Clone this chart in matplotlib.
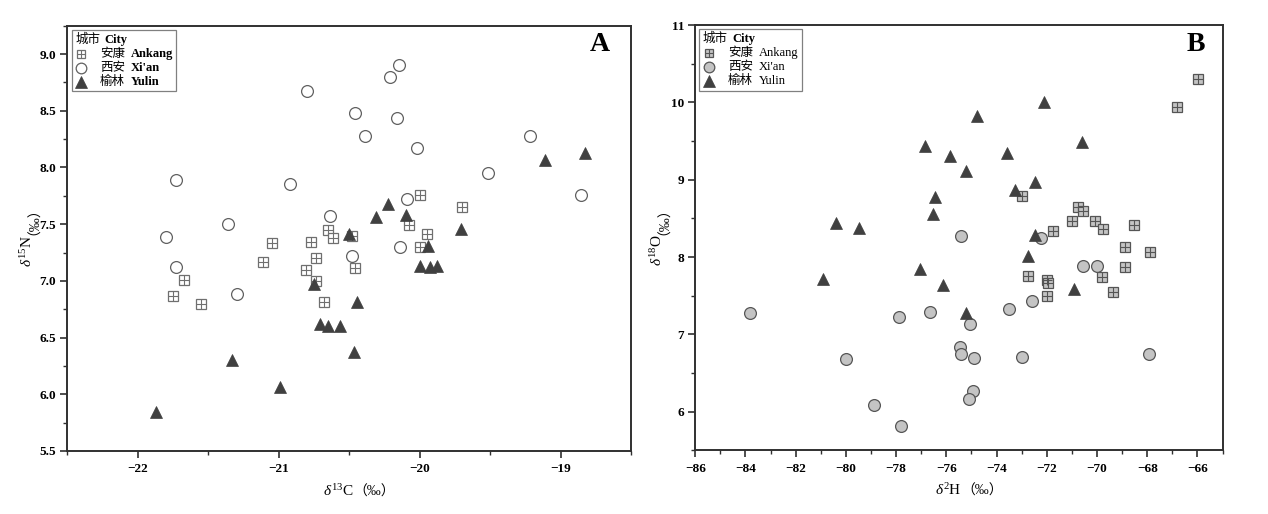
import matplotlib
matplotlib.use("Agg")
import matplotlib.pyplot as plt
from matplotlib.lines import Line2D
from matplotlib.ticker import MultipleLocator
from matplotlib.offsetbox import AnchoredOffsetbox, HPacker, VPacker, TextArea, DrawingArea

plt.rcParams['font.family'] = ['Liberation Serif', 'Noto Sans CJK SC', 'DejaVu Sans']
plt.rcParams['mathtext.fontset'] = 'custom'
plt.rcParams['mathtext.rm'] = 'Liberation Serif'
plt.rcParams['mathtext.it'] = 'Liberation Serif:italic'
plt.rcParams['mathtext.bf'] = 'Liberation Serif:bold'

# ---------- datos: panel A (d13C, d15N) ----------
ank_c = [-21.75, -21.67, -21.55, -21.11, -21.05, -20.81, -20.77, -20.74, -20.74, -20.68,
         -20.65, -20.62, -20.48, -20.46, -20.08, -20.00, -20.00, -19.95, -19.70]
ank_n = [6.87, 7.01, 6.80, 7.17, 7.33, 7.10, 7.34, 7.20, 7.00, 6.81,
         7.45, 7.38, 7.40, 7.11, 7.49, 7.30, 7.76, 7.41, 7.65]

xa_c = [-21.80, -21.73, -21.73, -21.36, -21.30, -20.92, -20.80, -20.64, -20.48, -20.46,
        -20.39, -20.21, -20.16, -20.15, -20.14, -20.09, -20.02, -19.52, -19.22, -18.86]
xa_n = [7.39, 7.89, 7.12, 7.50, 6.88, 7.85, 8.67, 7.57, 7.22, 8.48,
        8.28, 8.80, 8.44, 8.90, 7.30, 7.72, 8.17, 7.95, 8.28, 7.76]

yl_c = [-21.87, -21.33, -20.99, -20.75, -20.71, -20.65, -20.57, -20.50, -20.47, -20.45,
        -20.31, -20.23, -20.10, -20.00, -19.94, -19.93, -19.88, -19.71, -19.11, -18.83]
yl_n = [5.84, 6.30, 6.06, 6.97, 6.62, 6.60, 6.60, 7.41, 6.37, 6.81,
        7.56, 7.68, 7.58, 7.13, 7.31, 7.12, 7.13, 7.46, 8.07, 8.13]

# ---------- datos: panel B (d2H, d18O) ----------
ank_h = [-65.97, -66.80, -73.00, -71.75, -70.76, -70.56, -71.00, -70.10, -69.77, -68.52,
         -68.90, -67.90, -72.76, -72.00, -71.95, -72.00, -68.90, -69.80, -69.36]
ank_o = [10.30, 9.94, 8.79, 8.34, 8.65, 8.59, 8.47, 8.47, 8.36, 8.42,
         8.13, 8.06, 7.76, 7.70, 7.67, 7.49, 7.87, 7.74, 7.55]

xa_h = [-83.80, -80.00, -78.87, -77.90, -77.80, -76.65, -75.43, -75.45, -75.40, -75.05,
        -74.90, -74.95, -75.10, -73.50, -73.00, -72.60, -72.25, -70.56, -70.00, -67.93]
xa_o = [7.27, 6.68, 6.08, 7.23, 5.82, 7.29, 8.27, 6.83, 6.74, 7.14,
        6.69, 6.27, 6.17, 7.33, 6.71, 7.43, 8.25, 7.88, 7.88, 6.75]

yl_h = [-80.93, -80.38, -79.47, -77.04, -76.84, -76.44, -76.52, -76.15, -75.87, -75.23,
        -75.23, -74.79, -73.60, -73.28, -72.48, -72.76, -72.48, -72.12, -70.92, -70.60]
yl_o = [7.71, 8.44, 8.37, 7.84, 9.43, 8.78, 8.55, 7.64, 9.30, 9.11,
        7.28, 9.83, 9.35, 8.87, 8.97, 8.01, 8.28, 10.00, 7.58, 9.49]

ciudades_zh = ['安康', '西安', '榆林']
ciudades_en = ['Ankang', "Xi'an", 'Yulin']

GRIS_OSC = '#404040'
ESPINA = '#303030'


def estilos(panel):
    # estilos de marcador por ciudad
    if panel == 'A':
        sq = dict(marker='s', ms=7, mfc='white', mec='#6f6f6f', mew=0.9)
        pl = dict(marker='+', ms=7, mec='#6f6f6f', mew=0.8)
        ci = dict(marker='o', ms=8.5, mfc='white', mec='#606060', mew=0.9)
    else:
        sq = dict(marker='s', ms=7, mfc='#c4c4c4', mec='#555555', mew=0.9)
        pl = dict(marker='+', ms=7, mec='#555555', mew=0.8)
        ci = dict(marker='o', ms=8.5, mfc='#c4c4c4', mec='#555555', mew=0.9)
    tr = dict(marker='^', ms=9, mfc=GRIS_OSC, mec=GRIS_OSC, mew=0.5)
    return sq, pl, ci, tr


def dibujar(ax, xs, ys, panel):
    sq, pl, ci, tr = estilos(panel)
    ax.plot(xs[0], ys[0], ls='none', zorder=3, **sq)
    ax.plot(xs[0], ys[0], ls='none', zorder=3, **pl)
    ax.plot(xs[1], ys[1], ls='none', zorder=3, **ci)
    ax.plot(xs[2], ys[2], ls='none', zorder=4, **tr)


def leyenda(ax, panel):
    sq, pl, ci, tr = estilos(panel)
    peso = 'bold' if panel == 'A' else 'normal'
    titulo = HPacker(children=[TextArea('城市', textprops=dict(size=9)),
                               TextArea('City', textprops=dict(size=9, weight='bold'))],
                     sep=3, align='baseline')
    filas = [titulo]
    marcas = [[sq, pl], [ci], [tr]]
    for k in range(3):
        da = DrawingArea(14, 8, 0, 0)
        for st in marcas[k]:
            d = dict(st)
            d['ms'] = d['ms'] * 0.9
            da.add_artist(Line2D([4.5], [4], ls='none', **d))
        txt = HPacker(children=[TextArea(ciudades_zh[k], textprops=dict(size=9)),
                                TextArea(ciudades_en[k], textprops=dict(size=9, weight=peso))],
                      sep=4, align='baseline')
        fila = HPacker(children=[da, txt], sep=4, align='center')
        filas.append(fila)
    caja = VPacker(children=filas, sep=1.5, align='left', pad=0)
    ab = AnchoredOffsetbox(loc='upper left', child=caja, pad=0.25, borderpad=0.3, frameon=True)
    ab.patch.set_edgecolor('#808080')
    ab.patch.set_linewidth(0.9)
    ab.patch.set_boxstyle('square', pad=0)
    ax.add_artist(ab)


def ejes(ax, xlim, ylim, xmaj, xmin, ymaj, ymin):
    ax.set_xlim(*xlim)
    ax.set_ylim(*ylim)
    ax.xaxis.set_major_locator(MultipleLocator(xmaj))
    ax.xaxis.set_minor_locator(MultipleLocator(xmin))
    ax.yaxis.set_major_locator(MultipleLocator(ymaj))
    ax.yaxis.set_minor_locator(MultipleLocator(ymin))
    ax.tick_params(which='major', direction='out', length=5, width=1.2, color=ESPINA,
                   labelsize=9.5, pad=4)
    ax.tick_params(axis='y', which='major', pad=3)
    ax.tick_params(which='minor', direction='out', length=3, width=1.0, color=ESPINA)
    ax.tick_params(which='both', top=False, right=False)
    for s in ax.spines.values():
        s.set_linewidth(1.4)
        s.set_color(ESPINA)
    for lb in ax.get_xticklabels() + ax.get_yticklabels():
        lb.set_fontweight('bold')


def etiquetas(ax, xl, yl, ypos):
    ax.set_xlabel(xl, fontsize=11)
    ax.xaxis.set_label_coords(0.48, -0.075)
    ax.annotate('（‰）', xy=(1, 0.45), xycoords=ax.xaxis.label, ha='left', va='center',
                fontsize=10)
    ax.set_ylabel(yl, fontsize=11)
    ax.yaxis.set_label_coords(ypos, 0.47)
    ax.annotate('（‰）', xy=(0.55, 1), xycoords=ax.yaxis.label, ha='center', va='bottom',
                rotation=90, fontsize=10)


fig = plt.figure(figsize=(12.68, 5.14), dpi=100)
axA = fig.add_axes([0.0532, 0.1226, 0.4448, 0.8274])
axB = fig.add_axes([0.5483, 0.1239, 0.4159, 0.8274])

dibujar(axA, [ank_c, xa_c, yl_c], [ank_n, xa_n, yl_n], 'A')
ejes(axA, (-22.5, -18.5), (5.5, 9.25), 1, 0.5, 0.5, 0.25)
etiquetas(axA, r'$\delta^{13}$C', r'$\delta^{15}$N', -0.058)
leyenda(axA, 'A')
axA.text(0.944, 0.955, 'A', transform=axA.transAxes, ha='center', va='center',
         fontsize=20, fontweight='bold')

dibujar(axB, [ank_h, xa_h, yl_h], [ank_o, xa_o, yl_o], 'B')
ejes(axB, (-86, -65), (5.5, 11), 2, 1, 1, 0.5)
etiquetas(axB, r'$\delta^{2}$H', r'$\delta^{18}$O', -0.058)
leyenda(axB, 'B')
axB.text(0.949, 0.955, 'B', transform=axB.transAxes, ha='center', va='center',
         fontsize=20, fontweight='bold')

fig.savefig('out.png', dpi=100)
